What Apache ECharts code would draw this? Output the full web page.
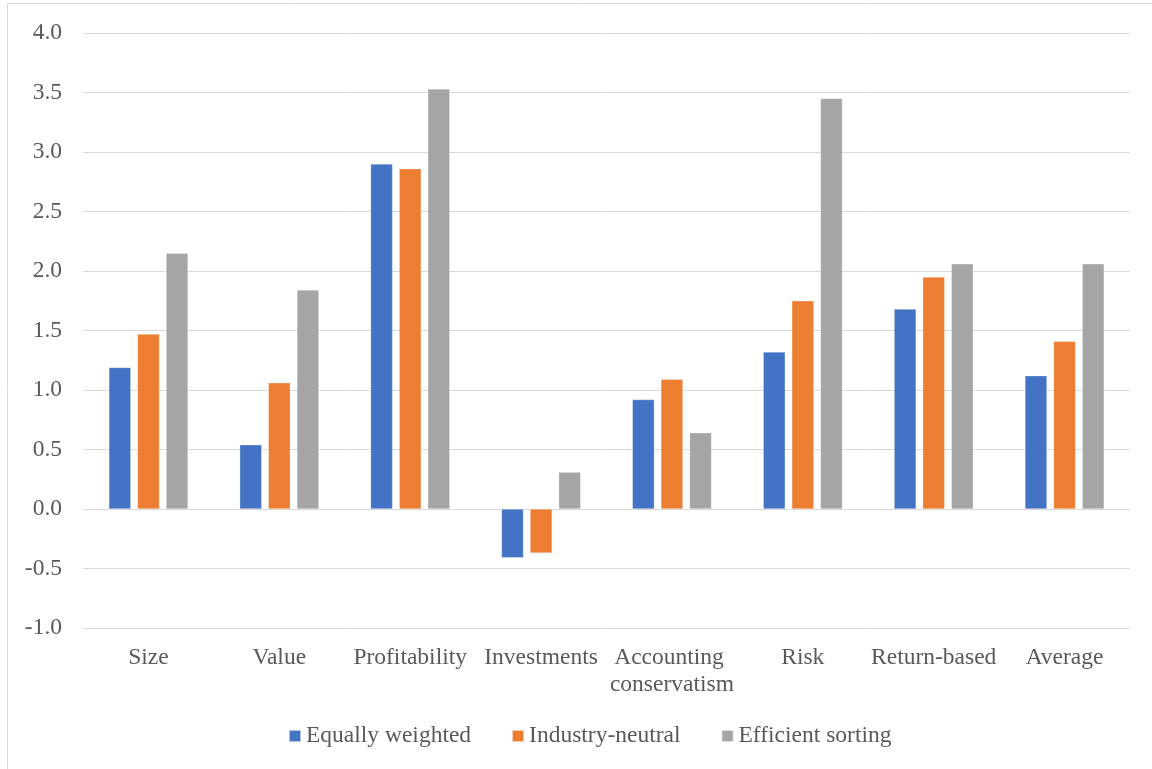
<!DOCTYPE html>
<html>
<head>
<meta charset="utf-8">
<script src="https://cdn.jsdelivr.net/npm/echarts@6/dist/echarts.min.js"></script>
<style>
html,body{margin:0;padding:0;background:#fff;}
#chart{width:1152px;height:769px;}
</style>
</head>
<body>
<div id="chart"></div>
<script>
const categories = ["Size", "Value", "Profitability", "Investments", "Accounting conservatism", "Risk", "Return-based", "Average"];
const seriesNames = ["Equally weighted", "Industry-neutral", "Efficient sorting"];
const equallyWeighted = [1.19, 0.54, 2.90, -0.41, 0.92, 1.32, 1.68, 1.12];
const industryNeutral = [1.47, 1.06, 2.86, -0.37, 1.09, 1.75, 1.95, 1.41];
const efficientSorting = [2.15, 1.84, 3.53, 0.31, 0.64, 3.45, 2.06, 2.06];
const colors = ["#4472C4", "#ED7D31", "#A5A5A5"];

const FONT = "'Liberation Serif', 'Times New Roman', serif";
const TEXT = "#595959";
const FS = 23.5;

const chart = echarts.init(document.getElementById('chart'), null, {renderer: 'canvas'});
const dataSets = [equallyWeighted, industryNeutral, efficientSorting];

chart.setOption({
  animation: false,
  backgroundColor: '#ffffff',
  color: colors,
  textStyle: {fontFamily: FONT, color: TEXT},
  graphic: [{
    type: 'rect',
    shape: {x: 7.5, y: 3.5, width: 1170, height: 790},
    style: {fill: 'none', stroke: '#d9d9d9', lineWidth: 1},
    silent: true, z: -10
  }],
  grid: {left: 83, right: 22, top: 33, bottom: 141, containLabel: false},
  legend: {
    top: 719,
    left: 283,
    padding: 5,
    icon: 'rect',
    itemWidth: 12,
    itemHeight: 12,
    itemGap: 40,
    textStyle: {fontFamily: FONT, fontSize: FS, color: TEXT, padding: [0, 0, 0, 0]},
    data: seriesNames
  },
  xAxis: {
    type: 'category',
    data: categories,
    axisLine: {show: false, onZero: false},
    axisTick: {show: false},
    axisLabel: {
      interval: 0,
      margin: 16,
      fontFamily: FONT,
      fontSize: FS,
      color: TEXT,
      lineHeight: 27,
      width: 130,
      overflow: 'break'
    }
  },
  yAxis: {
    type: 'value',
    min: -1,
    max: 4,
    interval: 0.5,
    axisLine: {show: false},
    axisTick: {show: false},
    splitLine: {lineStyle: {color: '#d9d9d9', width: 1}},
    axisLabel: {
      margin: 21,
      fontFamily: FONT,
      fontSize: FS,
      color: TEXT,
      formatter: v => v.toFixed(1)
    }
  },
  series: seriesNames.map((name, i) => ({
    name: name,
    type: 'bar',
    data: dataSets[i],
    barWidth: 22,
    barGap: '30%',
    itemStyle: {color: colors[i], borderColor: 'rgba(255,255,255,0.6)', borderWidth: 0.5}
  }))
});
</script>
</body>
</html>
